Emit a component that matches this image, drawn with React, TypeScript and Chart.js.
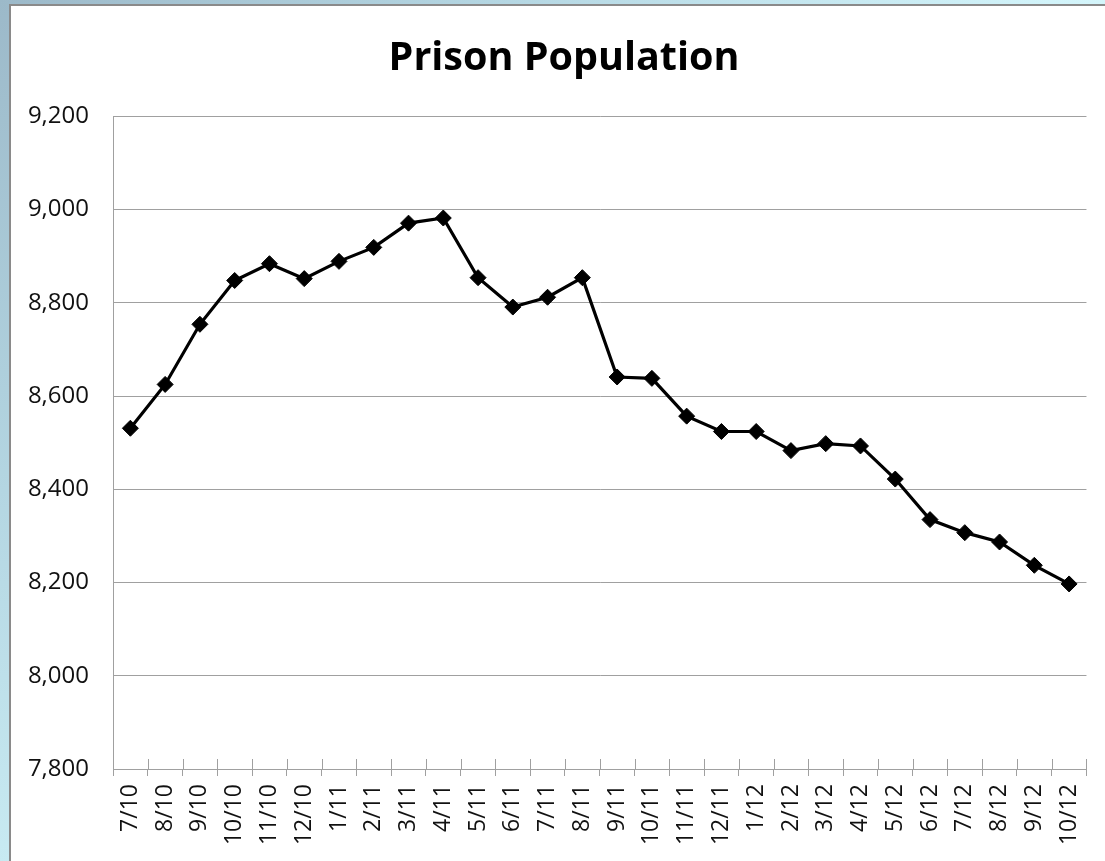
import React, { useEffect, useRef } from "react";
import { Chart, registerables } from "chart.js";

Chart.register(...registerables);

const months: string[] = [
  "7/10", "8/10", "9/10", "10/10", "11/10", "12/10",
  "1/11", "2/11", "3/11", "4/11", "5/11", "6/11", "7/11", "8/11", "9/11", "10/11", "11/11", "12/11",
  "1/12", "2/12", "3/12", "4/12", "5/12", "6/12", "7/12", "8/12", "9/12", "10/12",
];

const population: number[] = [
  8531, 8625, 8754, 8848, 8884, 8852,
  8889, 8919, 8971, 8982, 8854, 8791, 8812, 8854, 8641, 8638, 8557, 8524,
  8524, 8483, 8498, 8493, 8422, 8335, 8307, 8287, 8237, 8197,
];

const yMin = 7800;
const yMax = 9200;
const yStep = 200;
const chartTitle = "Prison Population";

const GRID = "#a0a0a0";

const crossTicks = {
  id: "crossTicks",
  beforeDatasetsDraw(chart: any) {
    const x = chart.scales.x;
    const n = x.ticks.length;
    const { ctx } = chart;
    ctx.save();
    ctx.strokeStyle = GRID;
    ctx.lineWidth = 1;
    for (let i = 1; i <= n; i++) {
      const px = Math.round(x.left + (i * (x.right - x.left)) / n) + 0.5;
      ctx.beginPath();
      ctx.moveTo(px, x.top);
      ctx.lineTo(px, x.top - 10);
      ctx.stroke();
    }
    ctx.restore();
  },
};

export default function App() {
  const ref = useRef<HTMLCanvasElement | null>(null);

  useEffect(() => {
    if (!ref.current) return;
    const chart = new Chart(ref.current, {
      type: "line",
      data: {
        labels: months,
        datasets: [
          {
            data: population,
            yAxisID: "y",
            borderColor: "#000",
            borderWidth: 3.2,
            backgroundColor: "#000",
            pointStyle: "rectRot",
            pointRadius: 8,
            pointBorderWidth: 1,
            pointBorderColor: "#000",
            pointBackgroundColor: "#000",
            tension: 0,
          },
        ],
      },
      options: {
        animation: false,
        responsive: false,
        devicePixelRatio: 1,
        layout: { padding: { left: 17, right: 5, top: 0, bottom: 0 } },
        plugins: {
          legend: { display: false },
          tooltip: { enabled: false },
          title: {
            display: true,
            text: chartTitle,
            color: "#000",
            font: { family: "'Open Sans'", size: 39.5, weight: "bold" },
            padding: { top: 29, bottom: 34 },
          },
        },
        scales: {
          x: {
            offset: true,
            grid: {
              display: true,
              drawOnChartArea: false,
              offset: true,
              tickLength: 7,
              color: GRID,
            },
            border: { display: true, color: GRID, width: 1 },
            ticks: {
              minRotation: 90,
              maxRotation: 90,
              autoSkip: false,
              padding: 8,
              color: "#111",
              font: { family: "'Open Sans'", size: 23 },
            },
            afterFit: (s: any) => {
              s.height = 92;
            },
          },
          y: {
            min: yMin,
            max: yMax,
            grid: { color: GRID, drawTicks: false, lineWidth: 1 },
            border: { display: true, color: GRID, width: 1 },
            ticks: {
              stepSize: yStep,
              padding: 24,
              color: "#111",
              font: { family: "'Open Sans'", size: 24 },
              callback: (v: any) => Number(v).toLocaleString("en-US"),
            },
            afterFit: (s: any) => {
              s.width = 85;
            },
          },
          yRight: {
            type: "linear",
            position: "right",
            display: true,
            grid: { display: false, drawOnChartArea: false },
            border: { display: false },
            ticks: { display: false },
            afterFit: (s: any) => {
              s.width = 12;
            },
          },
        },
      },
      plugins: [crossTicks],
    });
    return () => chart.destroy();
  }, []);

  return (
    <div
      style={{
        position: "fixed",
        inset: 0,
        overflow: "hidden",
        background:
          "radial-gradient(circle at 0 0, #9cb9c9 0%, #b4d6e2 35%, #d2f4fa 75%, #e2fcff 100%)",
      }}
    >
      <div
        style={{
          position: "absolute",
          left: 9,
          top: 4,
          width: 1200,
          height: 900,
          background: "#fff",
          borderLeft: "2px solid #8a8a8a",
          borderTop: "2px solid #8a8a8a",
        }}
      >
        <canvas
          ref={ref}
          width={1094}
          height={855}
          style={{ position: "absolute", left: 0, top: 0, width: 1094, height: 855 }}
        />
      </div>
    </div>
  );
}
